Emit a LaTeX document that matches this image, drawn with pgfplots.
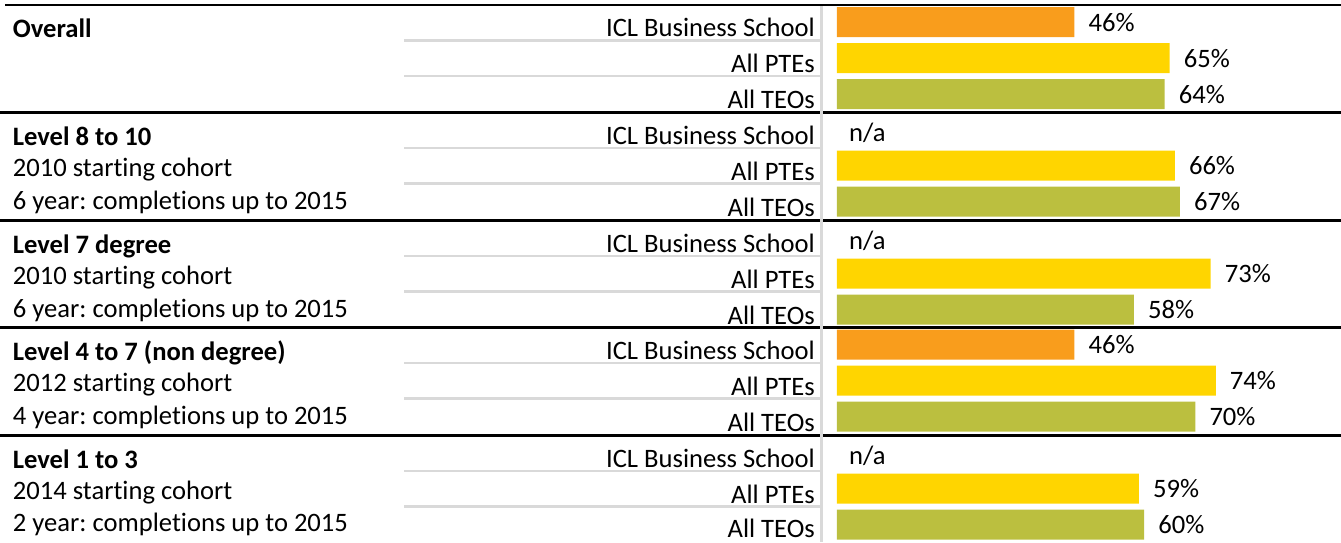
\documentclass[border=0pt]{standalone}
\usepackage{fontspec}
\setmainfont[Ligatures=NoCommon]{Carlito}
\usepackage{pgfplots}
\pgfplotsset{compat=1.18}
\definecolor{cOr}{RGB}{249,157,28}
\definecolor{cYe}{RGB}{255,213,0}
\definecolor{cOl}{RGB}{187,191,63}
\definecolor{cGr}{RGB}{217,217,217}
\begin{document}
\frenchspacing
\fontsize{26.7}{32}\selectfont
\begin{tikzpicture}[every node/.style={font=\fontsize{26.7}{32}\selectfont}]
\begin{axis}[
  width=1341bp, height=542bp, scale only axis,
  xmin=-163.46, xmax=98.46, ymin=0, ymax=542, y dir=reverse,
  axis lines=none, ticks=none, clip=false,
  xbar, bar width=30, bar shift=0pt,
  point meta=x,
  /pgf/number format/assume math mode=true,
  nodes near coords={\pgfmathprintnumber[fixed,precision=0,assume math mode=true]{\pgfplotspointmeta}\%},
  every node near coord/.style={anchor=base west, inner sep=0pt, xshift=14bp, yshift=-9.2bp, text=black, font=\fontsize{26.7}{32}\selectfont},
]
\coordinate (BL) at (rel axis cs:0,0);
\coordinate (TR) at (rel axis cs:1,1);
% separators
\draw[line width=2.5bp, black] (axis cs:-162.48,5.2) -- (axis cs:98.46,5.2);
\pgfplotsinvokeforeach{112.7,220.7,327.7,435.7}{
  \draw[line width=2.5bp, black] (axis cs:-163.46,#1) -- (axis cs:98.46,#1);
}
\pgfplotsinvokeforeach{5.2,112.7,220.7,327.7,435.7}{
  \draw[line width=2.2bp, cGr] (axis cs:-84.55,#1+35.3) -- (axis cs:-3.30,#1+35.3);
  \draw[line width=2.2bp, cGr] (axis cs:-84.55,#1+70.8) -- (axis cs:-3.30,#1+70.8);
  \node[anchor=base east, inner sep=0pt] at (axis cs:-4.28,#1+31.6) {ICL Business School};
  \node[anchor=base east, inner sep=0pt] at (axis cs:-4.28,#1+67.5) {All PTEs};
}
\pgfplotsinvokeforeach{5.2,112.7,220.7,327.7}{
  \node[anchor=base east, inner sep=0pt] at (axis cs:-4.28,#1+103.4) {All TEOs};
}
\node[anchor=base east, inner sep=0pt] at (axis cs:-4.28,537.4) {All TEOs};
\draw[line width=2.5bp, cGr] (axis cs:-3.01,6.5) -- (axis cs:-3.01,542);
% bars
\addplot[draw=none, fill=cOr] coordinates {(46.4,22.2) (46.4,344.7)};
\addplot[draw=none, fill=cYe] coordinates {(65,58.1) (66,165.6) (73,273.6) (74,380.6) (59,488.6)};
\addplot[draw=none, fill=cOl] coordinates {(64,94.0) (67,201.5) (58,309.5) (70,416.5) (60,524.5)};
% n/a
\pgfplotsinvokeforeach{129.7,237.7,452.7}{
  \node[anchor=base west, inner sep=0pt] at (axis cs:2.36,#1+11.3) {n/a};
}
% group labels
\node[anchor=base west, inner sep=0pt] at (axis cs:-160.98,37.8) {\bfseries Overall};
\node[anchor=base west, inner sep=0pt] at (axis cs:-160.98,145.3) {\bfseries Level 8 to 10};
\node[anchor=base west, inner sep=0pt] at (axis cs:-160.98,176.8) {2010 starting cohort};
\node[anchor=base west, inner sep=0pt] at (axis cs:-160.98,209.0) {6 year: completions up to 2015};
\node[anchor=base west, inner sep=0pt] at (axis cs:-160.98,253.3) {\bfseries Level 7 degree};
\node[anchor=base west, inner sep=0pt] at (axis cs:-160.98,284.8) {2010 starting cohort};
\node[anchor=base west, inner sep=0pt] at (axis cs:-160.98,317.0) {6 year: completions up to 2015};
\node[anchor=base west, inner sep=0pt] at (axis cs:-160.98,360.3) {\bfseries Level 4 to 7 (non degree)};
\node[anchor=base west, inner sep=0pt] at (axis cs:-160.98,391.8) {2012 starting cohort};
\node[anchor=base west, inner sep=0pt] at (axis cs:-160.98,424.0) {4 year: completions up to 2015};
\node[anchor=base west, inner sep=0pt] at (axis cs:-160.98,468.3) {\bfseries Level 1 to 3};
\node[anchor=base west, inner sep=0pt] at (axis cs:-160.98,499.8) {2014 starting cohort};
\node[anchor=base west, inner sep=0pt] at (axis cs:-160.98,531.5) {2 year: completions up to 2015};
\end{axis}
\pgfresetboundingbox
\path (BL) rectangle (TR);
\end{tikzpicture}
\end{document}
